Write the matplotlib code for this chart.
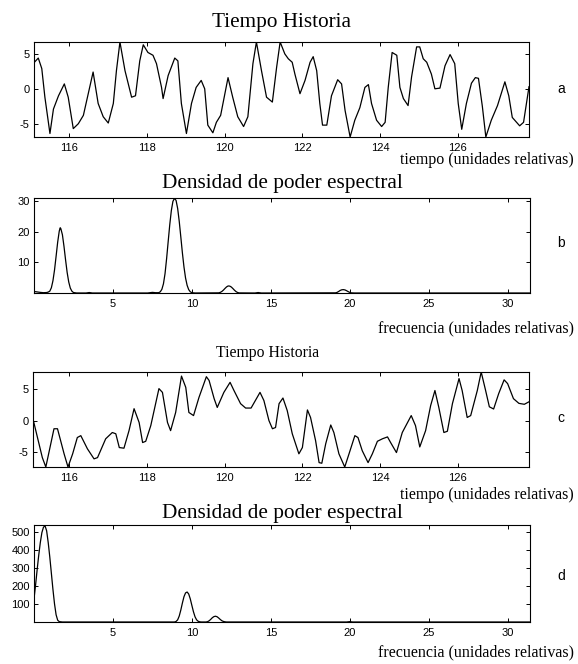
import matplotlib
matplotlib.use('Agg')
import matplotlib.pyplot as plt

plt.rcParams['axes.unicode_minus'] = False

# ---------------- data ----------------
# panel a : time history
ta = [115.11, 115.21, 115.30, 115.38, 115.51, 115.60, 115.73, 115.88, 115.98, 116.11,
      116.24, 116.37, 116.62, 116.75, 116.88, 117.01, 117.14, 117.22, 117.31, 117.44,
      117.61, 117.71, 117.82, 117.91, 118.03, 118.16, 118.25, 118.38, 118.42, 118.55,
      118.72, 118.80, 118.89, 119.02, 119.15, 119.27, 119.40, 119.49, 119.57, 119.70,
      119.79, 119.90, 120.09, 120.21, 120.34, 120.49, 120.60, 120.73, 120.82, 120.95,
      121.08, 121.23, 121.34, 121.43, 121.55, 121.64, 121.74, 121.81, 121.94, 122.07,
      122.20, 122.28, 122.37, 122.45, 122.52, 122.63, 122.75, 122.91, 123.01, 123.10,
      123.23, 123.35, 123.48, 123.61, 123.70, 123.78, 123.91, 124.04, 124.13, 124.21,
      124.31, 124.43, 124.51, 124.60, 124.72, 124.81, 124.94, 125.02, 125.11, 125.20,
      125.32, 125.41, 125.54, 125.67, 125.80, 125.92, 126.01, 126.10, 126.22, 126.35,
      126.45, 126.53, 126.63, 126.72, 126.86, 127.02, 127.21, 127.31, 127.40, 127.59,
      127.69, 127.83]
ya = [3.8, 4.4, 2.9, -1.2, -6.4, -2.9, -1.0, 0.7, -1.2, -5.7,
      -5.0, -3.8, 2.4, -2.1, -4.0, -4.9, -2.1, 2.6, 6.7, 2.6,
      -1.2, -1.0, 4.0, 6.3, 5.2, 4.8, 3.6, 0.2, -1.4, 1.9,
      4.4, 4.0, -2.1, -6.4, -2.1, 0.2, 1.2, 0.0, -5.2, -6.3,
      -4.8, -3.8, 1.6, -1.2, -4.0, -5.4, -4.0, 3.6, 6.7, 2.6,
      -1.2, -1.9, 3.1, 6.7, 5.0, 4.3, 3.8, 2.1, -0.7, 1.2,
      3.8, 4.6, 2.6, -2.1, -5.2, -5.2, -1.0, 1.3, 0.7, -3.1,
      -6.9, -4.5, -2.7, 0.2, 0.6, -2.1, -4.5, -5.4, -4.8, 0.2,
      5.2, 4.8, 0.2, -1.4, -2.4, 1.7, 6.0, 6.0, 4.3, 3.8,
      2.1, 0.0, 0.1, 3.3, 4.9, 3.6, -2.1, -5.8, -2.1, 0.8,
      1.6, 1.5, -2.5, -6.9, -4.5, -2.4, 1.0, -1.0, -4.1, -5.3,
      -4.8, 0.3]

# panel b : power spectral density of a
fb = [0.0, 0.2, 0.4, 0.6, 0.8, 0.9, 1.0, 1.1, 1.2, 1.3, 1.4, 1.5, 1.6, 1.66, 1.7, 1.8,
      1.9, 2.0, 2.1, 2.2, 2.3, 2.4, 2.5, 2.7, 3.3, 3.5, 3.7, 7.2, 7.5, 7.7,
      7.9, 8.0, 8.1, 8.2, 8.3, 8.4, 8.5, 8.6, 8.7, 8.8, 8.9, 9.0, 9.1, 9.2, 9.3, 9.4,
      9.5, 9.6, 9.7, 9.8, 9.9, 10.0, 10.2, 11.7, 11.8, 11.9, 12.0, 12.1, 12.2, 12.3,
      12.4, 12.5, 12.6, 12.7, 12.8, 12.9, 13.0, 14.0, 14.2, 14.4, 19.1, 19.2, 19.3,
      19.4, 19.5, 19.6, 19.7, 19.8, 19.9, 20.0, 20.1, 20.3, 31.42]
pb = [0.5, 0.35, 0.2, 0.1, 0.15, 0.3, 0.6, 1.7, 4.0, 7.5, 12.0, 16.6, 20.2, 21.3, 21.0, 19.0,
      15.2, 10.8, 6.7, 3.6, 1.6, 0.6, 0.15, 0.0, 0.0, 0.15, 0.0, 0.0, 0.2, 0.1,
      0.1, 0.4, 1.2, 3.0, 6.3, 11.2, 16.8, 22.3, 26.9, 29.9, 30.9, 30.2, 27.6, 23.4, 18.3, 13.1,
      8.5, 4.9, 2.5, 1.1, 0.4, 0.1, 0.0, 0.05, 0.2, 0.5, 0.95, 1.5, 2.0, 2.3,
      2.25, 1.95, 1.45, 0.9, 0.45, 0.15, 0.03, 0.0, 0.15, 0.0, 0.05, 0.2, 0.5,
      0.85, 1.05, 1.1, 1.0, 0.75, 0.45, 0.2, 0.05, 0.0, 0.0]

# panel c : time history
tc = [115.08, 115.31, 115.40, 115.61, 115.70, 115.87, 115.97, 116.09, 116.21, 116.30,
      116.47, 116.64, 116.73, 116.94, 117.11, 117.20, 117.29, 117.41, 117.54, 117.67,
      117.80, 117.89, 117.97, 118.10, 118.31, 118.40, 118.53, 118.61, 118.74, 118.89,
      119.00, 119.08, 119.20, 119.34, 119.53, 119.60, 119.73, 119.81, 119.98, 120.14,
      120.24, 120.41, 120.54, 120.68, 120.91, 121.01, 121.14, 121.23, 121.31, 121.40,
      121.50, 121.61, 121.74, 121.91, 122.00, 122.13, 122.21, 122.34, 122.43, 122.50,
      122.60, 122.73, 122.81, 122.94, 123.09, 123.20, 123.35, 123.43, 123.54, 123.69,
      123.80, 123.93, 124.06, 124.19, 124.27, 124.42, 124.57, 124.80, 124.91, 125.02,
      125.17, 125.30, 125.41, 125.51, 125.64, 125.73, 125.86, 126.03, 126.11, 126.24,
      126.33, 126.50, 126.60, 126.71, 126.81, 126.92, 127.05, 127.19, 127.28, 127.43,
      127.57, 127.71, 127.83]
yc = [0.0, -5.9, -7.4, -1.3, -1.3, -5.3, -7.4, -5.3, -2.7, -2.4,
      -4.5, -6.1, -5.9, -2.9, -1.9, -2.1, -4.3, -4.4, -1.6, 1.9,
      -0.3, -3.5, -3.3, -0.8, 5.1, 4.5, -0.3, -1.6, 1.3, 7.1,
      5.3, 1.3, 0.8, 3.7, 7.0, 6.4, 3.5, 2.1, 4.5, 6.1,
      4.8, 2.7, 2.0, 2.0, 4.5, 3.2, 0.0, -1.3, -1.1, 2.7,
      3.6, 1.6, -2.1, -5.3, -4.3, 1.7, 0.5, -3.2, -6.7, -6.8,
      -3.7, -0.7, -1.9, -5.3, -7.4, -5.3, -2.4, -2.7, -4.8, -6.7,
      -5.3, -3.3, -2.9, -2.6, -3.5, -5.1, -1.9, 0.8, -0.8, -4.2,
      -1.6, 2.4, 4.8, 2.1, -1.9, -1.7, 2.7, 6.7, 4.8, 0.5,
      0.8, 4.8, 7.75, 4.9, 2.2, 1.85, 4.3, 6.5, 5.9, 3.5,
      2.75, 2.6, 3.0]

# panel d : power spectral density of c
fd = [0.0, 0.1, 0.2, 0.3, 0.4, 0.5, 0.6, 0.7, 0.8, 0.9, 1.0, 1.1, 1.2, 1.3, 1.4, 1.5,
      1.6, 1.8, 8.9, 9.0, 9.1, 9.2, 9.3, 9.4, 9.5, 9.6, 9.7, 9.8, 9.9, 10.0, 10.1,
      10.2, 10.3, 10.4, 10.5, 10.6, 10.9, 11.0, 11.1, 11.2, 11.3, 11.4, 11.5, 11.6,
      11.7, 11.8, 11.9, 12.0, 12.1, 12.2, 19.8, 20.0, 20.2, 31.42]
pd_ = [128, 205, 290, 370, 440, 495, 525, 532, 505, 440, 360, 270, 180, 100, 40, 10,
       2, 0, 0, 3, 12, 33, 66, 105, 140, 161, 166, 155, 128, 92, 57,
       29, 12, 4, 1, 0, 0, 2, 7, 15, 24, 30, 32, 29,
       22, 14, 7, 3, 1, 0, 0, 2, 0, 0]

time_ticks = [116, 118, 120, 122, 124, 126]
freq_ticks = [5, 10, 15, 20, 25, 30]
ticks_a = [-5, 0, 5]
ticks_b = [10, 20, 30]
ticks_d = [100, 200, 300, 400, 500]

# ---------------- figure ----------------
W, H = 578, 664
fig = plt.figure(figsize=(W / 100, H / 100), dpi=100)
SERIF = ['Liberation Serif', 'DejaVu Serif']
SANS = ['Liberation Sans', 'DejaVu Sans']


def ax_at(x0, y0, x1, y1):
    return fig.add_axes([x0 / W, 1 - y1 / H, (x1 - x0) / W, (y1 - y0) / H])


def style(ax):
    for s in ax.spines.values():
        s.set_linewidth(0.8)
        s.set_color('black')
    ax.tick_params(direction='in', top=True, right=True, length=3, width=0.7,
                   labelsize=8, pad=3, colors='black')
    ax.tick_params(axis='x', pad=4)
    for lab in ax.get_xticklabels() + ax.get_yticklabels():
        lab.set_family(SANS)


def ftext(x, y, s, **kw):
    fig.text(x / W, 1 - y / H, s, **kw)


# panel a
axa = ax_at(34, 42, 529, 137)
axa.plot(ta, ya, color='black', lw=0.9)
axa.set_xlim(115.1, 127.83)
axa.set_ylim(-6.9, 6.7)
axa.set_xticks(time_ticks)
axa.set_yticks(ticks_a)
style(axa)

# panel b
axb = ax_at(34, 198, 530, 293)
axb.plot(fb, pb, color='black', lw=0.9)
axb.set_xlim(0, 31.42)
axb.set_ylim(0, 31.0)
axb.set_xticks(freq_ticks)
axb.set_yticks(ticks_b)
style(axb)

# panel c
axc = ax_at(33, 372, 529, 467)
axc.plot(tc, yc, color='black', lw=0.9)
axc.set_xlim(115.07, 127.83)
axc.set_ylim(-7.4, 7.75)
axc.set_xticks(time_ticks)
axc.set_yticks(ticks_a)
style(axc)

# panel d
axd = ax_at(34, 525, 530, 622)
axd.plot(fd, pd_, color='black', lw=0.9)
axd.set_xlim(0, 31.42)
axd.set_ylim(0, 537)
axd.set_xticks(freq_ticks)
axd.set_yticks(ticks_d)
style(axd)

# texts
ftext(282, 27, 'Tiempo Historia', ha='center', va='baseline', family=SERIF, fontsize=15.3)
ftext(574, 164, 'tiempo (unidades relativas)', ha='right', va='baseline', family=SERIF, fontsize=11.5)
ftext(282, 188, 'Densidad de poder espectral', ha='center', va='baseline', family=SERIF, fontsize=15.3)
ftext(574, 332, 'frecuencia (unidades relativas)', ha='right', va='baseline', family=SERIF, fontsize=11.5)
ftext(268, 357, 'Tiempo Historia', ha='center', va='baseline', family=SERIF, fontsize=11.3)
ftext(574, 499, 'tiempo (unidades relativas)', ha='right', va='baseline', family=SERIF, fontsize=11.5)
ftext(282, 518, 'Densidad de poder espectral', ha='center', va='baseline', family=SERIF, fontsize=15.3)
ftext(574, 656, 'frecuencia (unidades relativas)', ha='right', va='baseline', family=SERIF, fontsize=11.5)

for lab, yy in zip(['a', 'b', 'c', 'd'], [89, 243, 418, 576]):
    ftext(561, yy, lab, ha='center', va='center', family=SANS, fontsize=10)

fig.savefig('out.png', dpi=100, facecolor='white')
